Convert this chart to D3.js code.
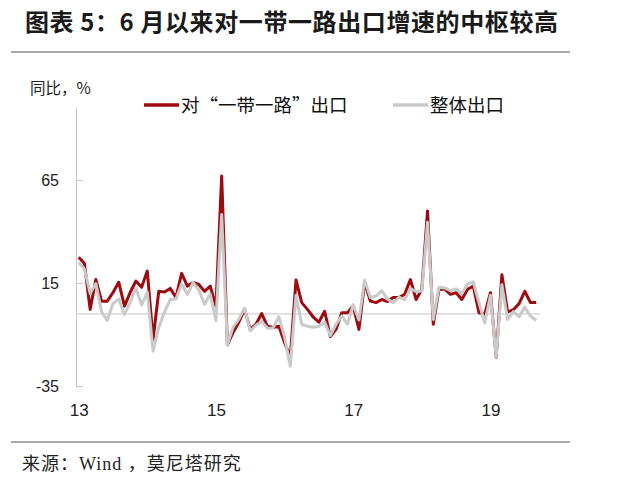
<!DOCTYPE html>
<html><head><meta charset="utf-8">
<script src="https://cdn.jsdelivr.net/npm/d3@7"></script>
<style>
html,body{margin:0;padding:0;background:#fff;}
svg{display:block;}
</style></head>
<body>
<svg id="chart" width="620" height="480"></svg>
<script>
// Monthly data, Jan 2013 – Sep 2019 (YoY, %)
const startYear = 2013;
const beltRoad = [
  27.5, 24.5, 2.2, 16.7, 6.2, 6.2, 10.4, 15.4, 3.8, 10.4, 16, 12.9,
  20.8, -12.4, 11, 10.6, 12.4, 8, 19.7, 13.5, 15.3, 14.3, 11, 13.5,
  3.8, 67, -15, -9, -4, 2.2, -7.5, -5, 0.2, -6, -6.6, -6,
  -14, -21, 16.5, 5.5, 2.2, -1.5, -4, 1.3, -11, -7.5, 0.6, 0.6,
  3.8, -7.5, 15.3, 6.2, 5.5, 7, 6, 8, 8, 9.5, 16.7, 7,
  12, 50, -5, 12, 12, 9.5, 10.3, 7, 12, 13.5, 0.5, 0,
  10.3, -21, 19, 1, 2, 5, 11, 5.5, 5.5
];
const totalExport = [
  25.0, 21.8, 10.0, 14.7, 1.0, -3.1, 5.1, 7.2, -0.3, 5.6, 12.7, 4.3,
  10.6, -18.1, -6.6, 0.9, 7.0, 7.2, 14.5, 9.4, 15.3, 11.6, 4.7, 9.7,
  -3.3, 48.3, -15.0, -6.4, -2.5, 2.8, -8.3, -5.5, -3.7, -6.9, -6.8, -1.4,
  -11.2, -25.4, 9, -5, -6, -6.5, -6, -4, -10.5, -5, -1, -5,
  4.5, -3, 16.4, 8.0, 8.7, 11.3, 7.2, 5.5, 8.1, 6.9, 12.3, 10.9,
  11.1, 44.5, -2.7, 12.9, 12.6, 11.3, 12.2, 9.8, 14.5, 15.6, 5.4, -4.4,
  9.1, -20.7, 14.2, -2.7, 1.1, -1.3, 3.3, -1.0, -3.2
];
const yTicks = [-35, 15, 65];
const xTickMonths = [0, 24, 48, 72];
const xTickLabels = ["13", "15", "17", "19"];
const seriesNames = ["对“一带一路”出口", "整体出口"];
const title = "图表 5：6 月以来对一带一路出口增速的中枢较高";
const source = "来源：Wind ，莫尼塔研究";
const yLabel = "同比，%";

const svg = d3.select("#chart");
const cjk = "'Noto Sans CJK SC', 'Noto Sans', sans-serif";

const x = d3.scaleLinear().domain([0, 80]).range([78.7, 536.2]);
const y = d3.scaleLinear().domain([-35, 100]).range([386, 108]);

// Title
svg.append("text").attr("x", 25).attr("y", 31)
  .attr("font-family", cjk).attr("font-weight", 700).attr("font-size", 24)
  .attr("letter-spacing", 0.6)
  .attr("fill", "#1a1a1a").text(title);
svg.append("line").attr("x1", 11).attr("x2", 570).attr("y1", 52).attr("y2", 52)
  .attr("stroke", "#8c8c8c").attr("stroke-width", 1.6);

// Bottom rule + source
svg.append("line").attr("x1", 11).attr("x2", 570).attr("y1", 442).attr("y2", 442)
  .attr("stroke", "#8c8c8c").attr("stroke-width", 1.6);
svg.append("text").attr("x", 22).attr("y", 470)
  .attr("font-family", "'Liberation Serif', 'Noto Sans CJK SC', serif").attr("font-size", 18)
  .attr("letter-spacing", 1)
  .attr("fill", "#222").text(source);

// Y label
svg.append("text").attr("x", 30).attr("y", 94)
  .attr("font-family", cjk).attr("font-size", 15.5).attr("fill", "#222").text(yLabel);

// Zero line
svg.append("line").attr("x1", 76).attr("x2", 540).attr("y1", y(0)).attr("y2", y(0))
  .attr("stroke", "#c4c4c4").attr("stroke-width", 1);

// Y axis
const yAxis = d3.axisLeft(y).tickValues(yTicks).tickSizeInner(-7).tickSizeOuter(0).tickPadding(17)
  .tickFormat(d => d);
const gy = svg.append("g").attr("transform", "translate(76,0)").call(yAxis);
gy.select(".domain").attr("stroke", "#c4c4c4");
gy.selectAll(".tick line").attr("stroke", "#c4c4c4");
gy.selectAll(".tick text").attr("font-family", "'Liberation Sans', Arial, sans-serif")
  .attr("font-size", 16).attr("fill", "#222");

// X axis labels
const xAxis = d3.axisBottom(x).tickValues(xTickMonths).tickSize(0).tickPadding(0)
  .tickFormat((d, i) => xTickLabels[i]);
const gx = svg.append("g").attr("transform", "translate(0,404)").call(xAxis);
gx.select(".domain").remove();
gx.selectAll(".tick text").attr("font-family", "'Liberation Sans', Arial, sans-serif")
  .attr("font-size", 17).attr("fill", "#222");

// Lines
const line = d3.line().x((d, i) => x(i)).y(d => y(d));
svg.append("path").datum(beltRoad).attr("d", line)
  .attr("fill", "none").attr("stroke", "#9e0b0f").attr("stroke-width", 3).attr("stroke-linejoin", "round");
svg.append("path").datum(totalExport).attr("d", line)
  .attr("fill", "none").attr("stroke", "#cacaca").attr("stroke-width", 3).attr("stroke-linejoin", "round");

// Legend
const legend = [
  {name: seriesNames[0], color: "#9e0b0f", x: 144},
  {name: seriesNames[1], color: "#cacaca", x: 393}
];
legend.forEach(l => {
  svg.append("line").attr("x1", l.x).attr("x2", l.x + 35).attr("y1", 105).attr("y2", 105)
    .attr("stroke", l.color).attr("stroke-width", 3.5);
  svg.append("text").attr("x", l.x + 37).attr("y", 111.5)
    .attr("font-family", cjk).attr("font-weight", 400).attr("font-size", 18.5)
    .attr("fill", "#111").text(l.name);
});
</script>
</body></html>
